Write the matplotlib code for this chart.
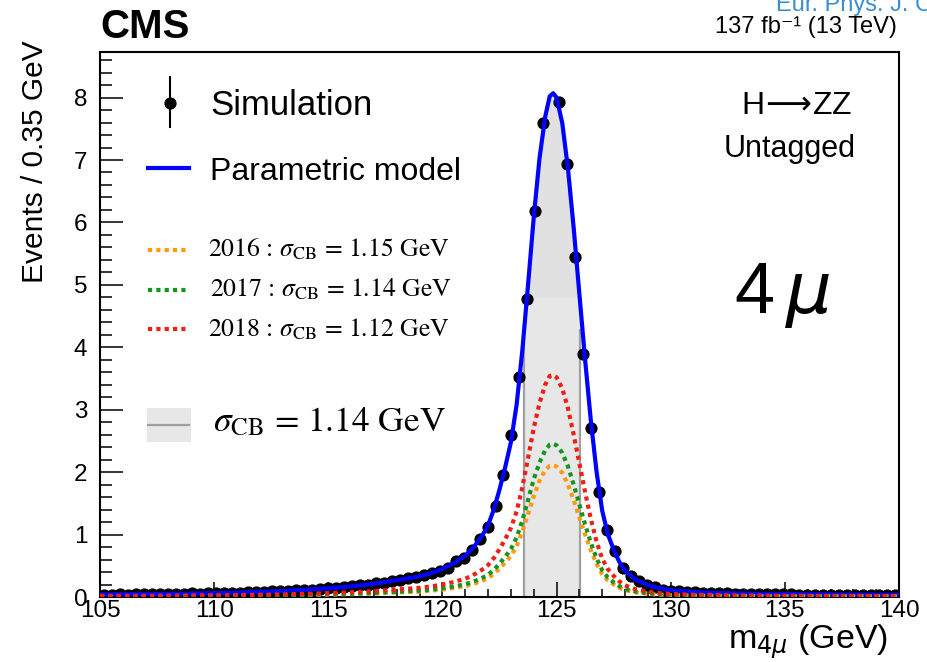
import numpy as np
import matplotlib
matplotlib.use("Agg")
import matplotlib.pyplot as plt
from matplotlib.patches import Rectangle
from matplotlib.ticker import MultipleLocator

plt.rcParams['font.family'] = ['Liberation Sans', 'DejaVu Sans']

# Simulated events, 0.35 GeV bins between 105 and 140 GeV
# (the bin at the very top of the peak shows no marker in the figure)
BIN_LO, BIN_W = 105.0, 0.35
sim_counts = [
    0.04, 0.04, 0.045, 0.04, 0.045, 0.05, 0.045, 0.05, 0.05, 0.05,
    0.055, 0.06, 0.055, 0.06, 0.065, 0.065, 0.07, 0.07, 0.075, 0.08,
    0.085, 0.09, 0.09, 0.10, 0.105, 0.11, 0.12, 0.13, 0.14, 0.15,
    0.16, 0.17, 0.19, 0.20, 0.22, 0.23, 0.25, 0.28, 0.30, 0.32,
    0.35, 0.38, 0.42, 0.47, 0.57, 0.62, 0.75, 0.93, 1.12, 1.45,
    1.95, 2.60, 3.53, 4.78, 6.18, 7.59, np.nan, 7.93, 6.93, 5.45,
    3.90, 2.70, 1.68, 1.07, 0.74, 0.46, 0.34, 0.26, 0.20, 0.155,
    0.12, 0.10, 0.09, 0.08, 0.075, 0.07, 0.065, 0.06, 0.06, 0.055,
    0.055, 0.05, 0.05, 0.05, 0.045, 0.045, 0.045, 0.04, 0.04, 0.04,
    0.04, 0.04, 0.035, 0.035, 0.035, 0.035, 0.035, 0.03, 0.03, 0.03,
]

# Parametric model (total and per year)
model_mass = [105, 107, 109, 111, 113, 114, 115, 116, 117, 118, 119, 119.5,
              120, 120.5, 121, 121.25, 121.5, 121.75, 122, 122.25, 122.5,
              122.75, 123, 123.25, 123.5, 123.75, 124, 124.25, 124.5, 124.7,
              124.85, 125, 125.25, 125.5, 125.75, 126, 126.25, 126.5, 126.75,
              127, 127.25, 127.5, 127.75, 128, 128.25, 128.5, 129, 129.5,
              130, 131, 132, 134, 137, 140]
model_total = [0.040, 0.045, 0.055, 0.070, 0.095, 0.115, 0.140, 0.170, 0.210,
               0.270, 0.330, 0.380, 0.450, 0.540, 0.660, 0.750, 0.860, 0.990,
               1.150, 1.400, 1.720, 2.080, 2.480, 3.080, 3.950, 5.000, 6.080,
               7.020, 7.690, 8.020, 8.070, 8.000, 7.590, 6.860, 5.910, 4.850,
               3.800, 2.830, 2.010, 1.380, 1.000, 0.760, 0.560, 0.420, 0.340,
               0.270, 0.190, 0.140, 0.110, 0.080, 0.065, 0.050, 0.040, 0.035]
model_2016 = [0.011, 0.012, 0.015, 0.019, 0.025, 0.030, 0.037, 0.045, 0.056,
              0.072, 0.087, 0.101, 0.119, 0.143, 0.175, 0.199, 0.228, 0.262,
              0.305, 0.371, 0.456, 0.551, 0.657, 0.816, 1.047, 1.325, 1.611,
              1.860, 2.030, 2.100, 2.110, 2.090, 1.990, 1.800, 1.550, 1.275,
              1.000, 0.750, 0.533, 0.366, 0.265, 0.201, 0.148, 0.111, 0.090,
              0.072, 0.050, 0.037, 0.029, 0.021, 0.017, 0.013, 0.011, 0.009]
model_2017 = [0.012, 0.014, 0.017, 0.022, 0.029, 0.036, 0.043, 0.053, 0.065,
              0.084, 0.102, 0.118, 0.140, 0.167, 0.205, 0.233, 0.267, 0.307,
              0.357, 0.434, 0.533, 0.645, 0.769, 0.955, 1.225, 1.550, 1.885,
              2.150, 2.350, 2.440, 2.455, 2.430, 2.310, 2.090, 1.800, 1.480,
              1.160, 0.870, 0.620, 0.428, 0.310, 0.236, 0.174, 0.130, 0.105,
              0.084, 0.059, 0.043, 0.034, 0.025, 0.020, 0.016, 0.012, 0.011]
model_2018 = [0.018, 0.020, 0.024, 0.031, 0.042, 0.051, 0.062, 0.076, 0.093,
              0.120, 0.147, 0.169, 0.200, 0.240, 0.294, 0.334, 0.383, 0.441,
              0.512, 0.623, 0.765, 0.926, 1.104, 1.371, 1.758, 2.225, 2.706,
              3.100, 3.400, 3.540, 3.555, 3.520, 3.340, 3.020, 2.600, 2.140,
              1.680, 1.250, 0.890, 0.610, 0.445, 0.338, 0.249, 0.187, 0.151,
              0.120, 0.085, 0.062, 0.049, 0.036, 0.029, 0.022, 0.018, 0.016]

year_labels = [r'2016 : $\sigma_{\mathrm{CB}}$ = 1.15 GeV',
               r'2017 : $\sigma_{\mathrm{CB}}$ = 1.14 GeV',
               r'2018 : $\sigma_{\mathrm{CB}}$ = 1.12 GeV']
year_colors = ['#ff9a10', '#14961e', '#f01e14']

# shaded sigma_CB band
band_lo, band_hi = 123.57, 126.02
band_edge_height = 4.3
band_shade_split = 4.8

fig = plt.figure(figsize=(9.28, 6.62), dpi=100)
ax = fig.add_axes([100 / 928, 65 / 662, 799 / 928, 545 / 662])

mass = np.array(model_mass)
total = np.array(model_total)

# band fill under the total model
clip = Rectangle((band_lo, 0), band_hi - band_lo, 20, transform=ax.transData)
f1 = ax.fill_between(mass, 0, total, color='#e7e7e7', lw=0, zorder=1)
f1.set_clip_path(clip)
f2 = ax.fill_between(mass, band_shade_split, total, where=total > band_shade_split,
                     interpolate=True, color='#e1e1e1', lw=0, zorder=1)
f2.set_clip_path(clip)
ax.vlines([band_lo, band_hi], 0, band_edge_height, color='#a0a0a0', lw=1.6, zorder=1.5)

# simulation points
centers = BIN_LO + BIN_W * (np.arange(len(sim_counts)) + 0.5)
ax.plot(centers, sim_counts, 'o', color='black', ms=7.8, zorder=2)

# total model and per-year contributions
ax.plot(mass, total, color='#0000ff', lw=3.0, zorder=3)
for ys, c in zip([model_2016, model_2017, model_2018], year_colors):
    ax.plot(mass, ys, color=c, lw=3.0, ls=(0, (1, 1)), zorder=4)

ax.set_xlim(105, 140)
ax.set_ylim(0, 8.73)
ax.xaxis.set_major_locator(MultipleLocator(5))
ax.xaxis.set_minor_locator(MultipleLocator(1))
ax.yaxis.set_major_locator(MultipleLocator(1))
ax.yaxis.set_minor_locator(MultipleLocator(0.2))
ax.tick_params(axis='x', which='major', direction='in', length=11, width=1.1,
               labelsize=17.5, pad=2)
ax.tick_params(axis='x', which='minor', direction='in', length=5.5, width=1.1)
ax.tick_params(axis='y', which='major', direction='in', length=16.5, width=1.1,
               labelsize=17.5, pad=9)
ax.tick_params(axis='y', which='minor', direction='in', length=8.5, width=1.1)
for s in ax.spines.values():
    s.set_linewidth(1.5)

# legend drawn by hand
T = ax.transAxes
ax.plot([0.0870], [0.9064], 'o', color='black', ms=7.8, transform=T, clip_on=False)
ax.plot([0.0870, 0.0870], [0.8624, 0.9541], color='black', lw=1.5, transform=T)
ax.text(0.1377, 0.8844, 'Simulation', fontsize=25, transform=T, va='baseline')
ax.plot([0.0601, 0.1114], [0.7866, 0.7866], color='#0000ff', lw=3.0, transform=T)
ax.text(0.1377, 0.7651, 'Parametric model', fontsize=23, transform=T, va='baseline')
for i, (lab, c) in enumerate(zip(year_labels, year_colors)):
    yl = [0.6367, 0.5633, 0.4912][i]
    yt = [0.6257, 0.5523, 0.4789][i]
    ax.plot([0.0601, 0.1114], [yl, yl], color=c, lw=3.0, ls=(0, (1, 1)), transform=T)
    ax.text(0.1356 if i != 1 else 0.1377, yt, lab, fontsize=18.5, transform=T,
            va='baseline', family='STIXGeneral', math_fontfamily='stix')
ax.add_patch(Rectangle((0.0584, 0.2850), 0.0555, 0.0612, transform=T,
                       facecolor='#e7e7e7', edgecolor='none'))
ax.plot([0.0601, 0.1114], [0.3156, 0.3156], color='#a0a0a0', lw=1.6, transform=T)
ax.text(0.1418, 0.3034, r'$\sigma_{\mathrm{CB}}$ = 1.14 GeV', fontsize=25.5,
        transform=T, va='baseline', family='STIXGeneral', math_fontfamily='stix')

# category labels
ax.text(0.8724, 0.8862, r'H$\!{\longrightarrow}\!$ZZ', fontsize=23, ha='center',
        va='baseline', transform=T, math_fontfamily='dejavusans')
ax.text(0.8636, 0.8073, 'Untagged', fontsize=22, ha='center', va='baseline', transform=T)
ax.text(0.8536, 0.5211, r'4$\,\mu$', fontsize=52, ha='center', va='baseline',
        transform=T, math_fontfamily='dejavusans')

# axis titles and header
fig.text(888 / 928, 1 - 648 / 662, r'm$_{4\mu}$ (GeV)', fontsize=24.5, ha='right',
         va='baseline', math_fontfamily='dejavusans')
fig.text(35 / 928, 1 - 40 / 662, 'Events / 0.35 GeV', fontsize=21.5, rotation=90,
         ha='center', va='top')
fig.text(100 / 928, 1 - 38 / 662, 'CMS', fontsize=29, fontweight='bold', va='baseline')
fig.text(897 / 928, 1 - 33 / 662, '137 fb\u207b\u00b9 (13 TeV)', fontsize=17,
         ha='right', va='baseline')
fig.text(776 / 928, 1 - 11 / 662, 'Eur. Phys. J. C', fontsize=17, color='#3a8dd0',
         va='baseline')

fig.savefig('out.png', dpi=100)
